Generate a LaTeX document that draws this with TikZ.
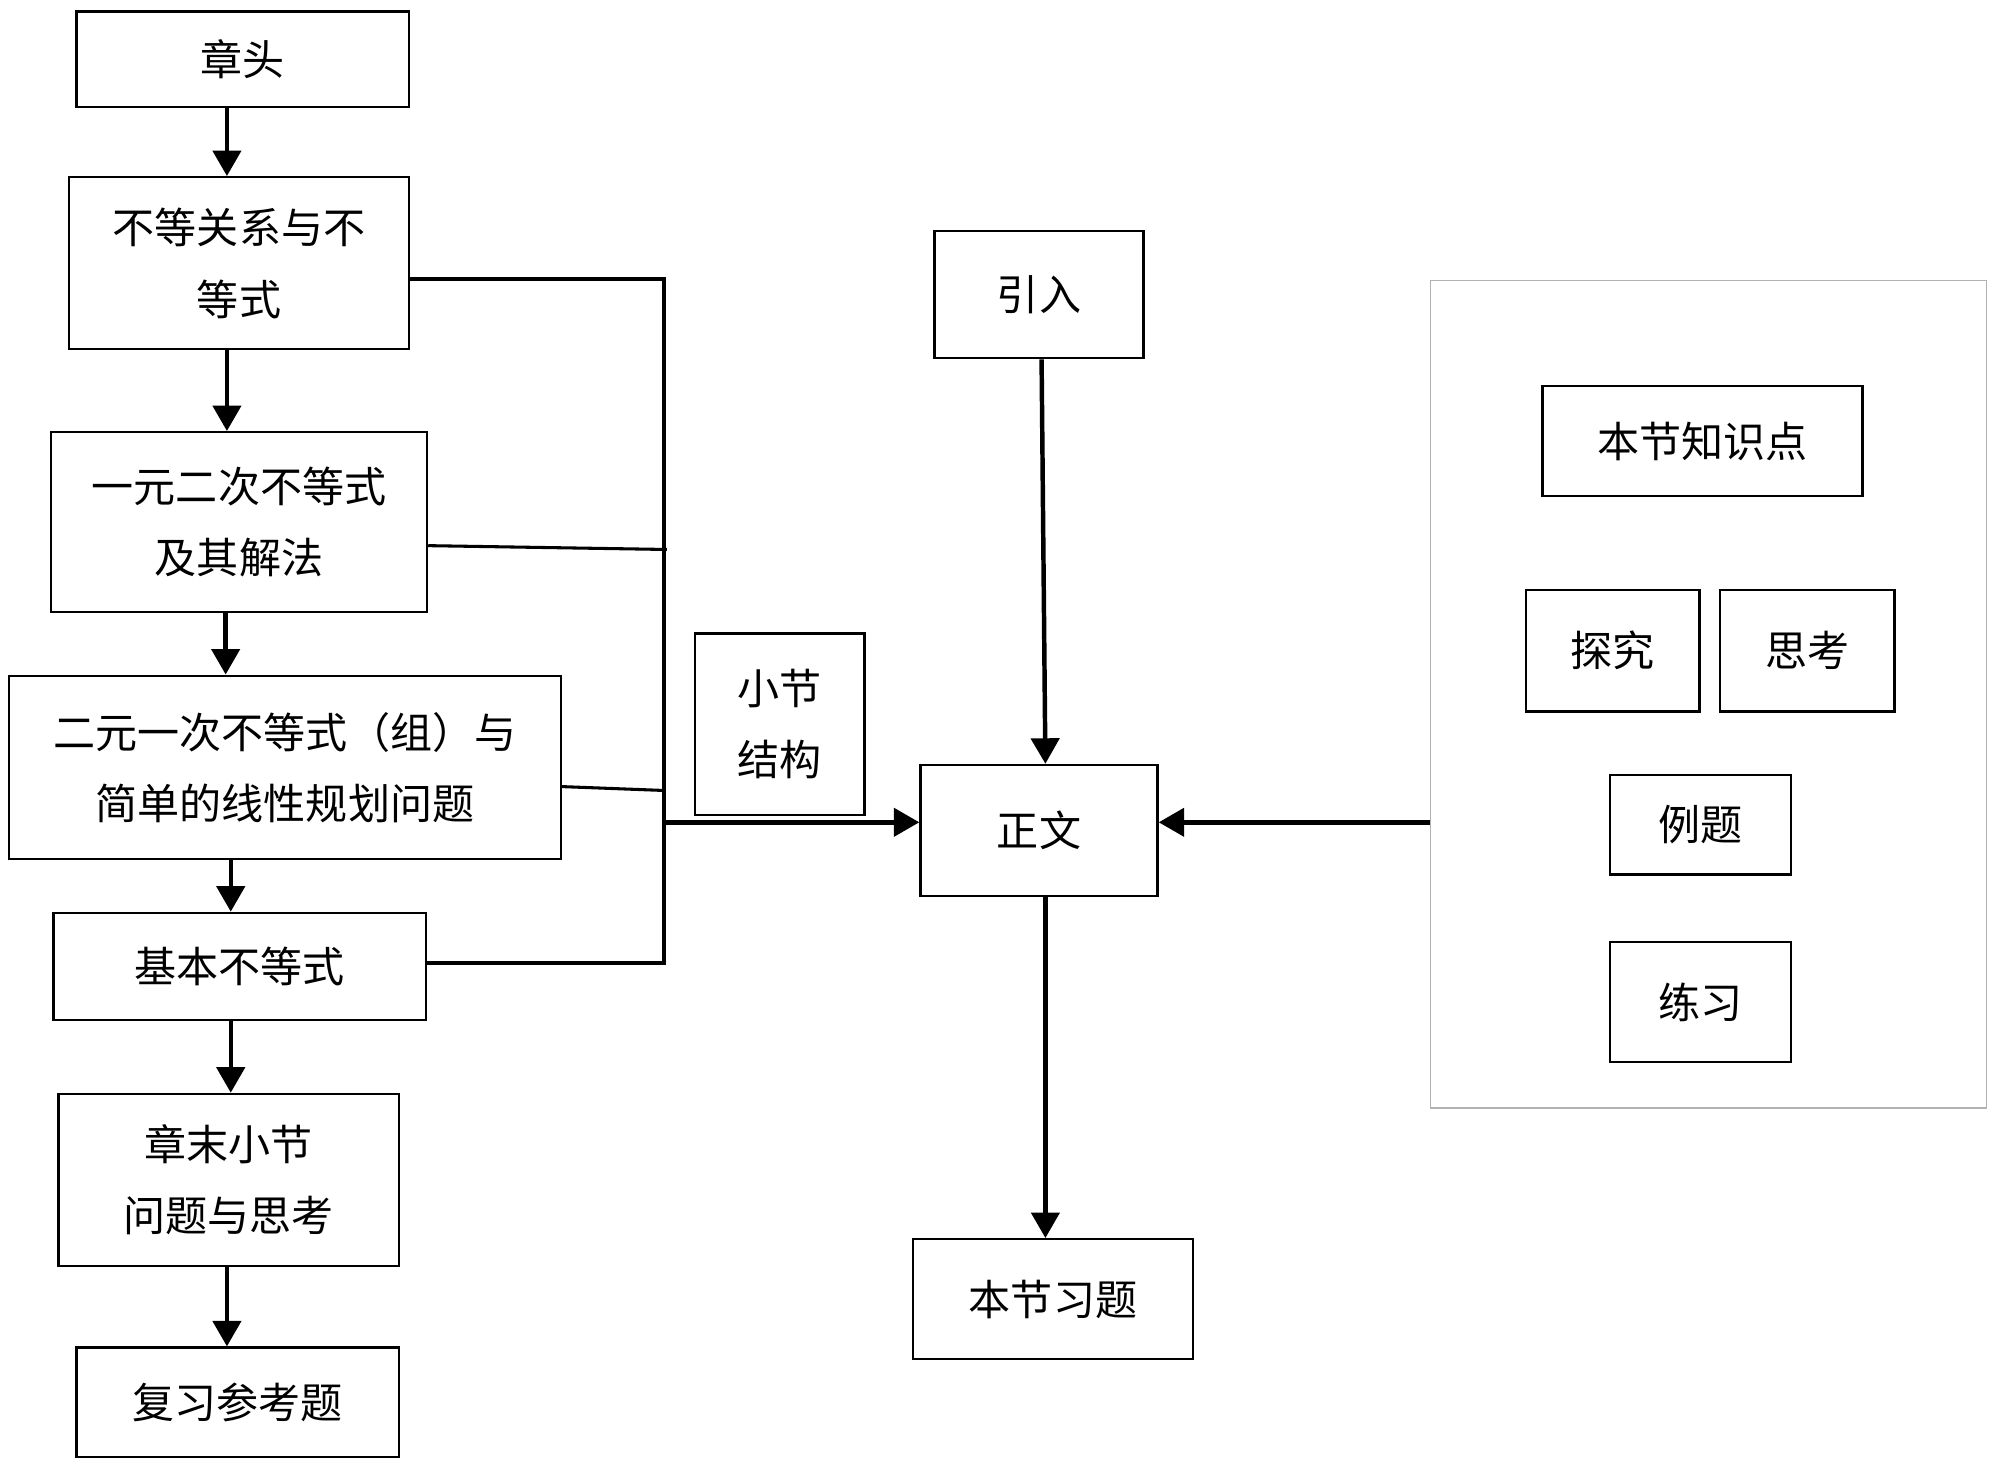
\documentclass[tikz,border=0pt]{standalone}
\usepackage{fontspec}
\setmainfont{Noto Sans CJK SC}
\usetikzlibrary{arrows.meta}
\begin{document}
\begin{tikzpicture}[x=1pt,y=-1pt,
  box/.style={draw,line width=1.8pt,inner sep=0pt,align=center,font=\fontsize{33}{56}\selectfont},
  arr/.style={line width=3.5pt,-{Triangle[length=20pt,width=22pt]}},
  bus/.style={line width=3.2pt},
  link/.style={line width=2.4pt}]
\useasboundingbox (0,0) rectangle (1568,1151);
% left column
\node[box,minimum width=261pt,minimum height=75pt] (zt) at (190.5,46.5) {章头};
\node[box,minimum width=267pt,minimum height=135pt] (bd) at (187.5,206.5) {不等关系与不\\等式};
\node[box,minimum width=295pt,minimum height=141pt] (yy) at (187.5,409.5) {一元二次不等式\\及其解法};
\node[box,minimum width=433pt,minimum height=144pt] (ey) at (223.5,602) {二元一次不等式（组）与\\简单的线性规划问题};
\node[box,minimum width=292pt,minimum height=84pt] (jb) at (188,758) {基本不等式};
\node[box,minimum width=267pt,minimum height=135pt] (zm) at (179.5,925.5) {章末小节\\问题与思考};
\node[box,minimum width=253pt,minimum height=86pt] (fx) at (186.5,1100) {复习参考题};
% middle
\node[box,minimum width=133pt,minimum height=142pt] (xj) at (611.5,568) {小节\\结构};
\node[box,minimum width=164pt,minimum height=100pt] (yr) at (815,231) {引入};
\node[box,minimum width=186pt,minimum height=103pt] (zw) at (815,651.5) {正文};
\node[box,minimum width=220pt,minimum height=94pt] (bx) at (826,1019) {本节习题};
% right group
\node[draw=black!30,line width=1pt,minimum width=436pt,minimum height=649pt,inner sep=0pt] (outer) at (1340,544.5) {};
\node[box,minimum width=251pt,minimum height=86pt] (zs) at (1335.5,346) {本节知识点};
\node[box,minimum width=136pt,minimum height=95pt] (tj) at (1265,510.5) {探究};
\node[box,minimum width=137pt,minimum height=95pt] (sk) at (1417.5,510.5) {思考};
\node[box,minimum width=142pt,minimum height=78pt] (lt) at (1334,647) {例题};
\node[box,minimum width=142pt,minimum height=94pt] (lx) at (1334,786) {练习};
% vertical chain arrows
\draw[arr] ([xshift=-12.5pt]zt.south) coordinate (a1) -- (a1 |- bd.north);
\draw[arr] ([xshift=-9.5pt]bd.south) coordinate (a2) -- (a2 |- yy.north);
\draw[arr] ([xshift=-10.5pt]yy.south) coordinate (a3) -- (a3 |- ey.north);
\draw[arr] ([xshift=-42.5pt]ey.south) coordinate (a4) -- (a4 |- jb.north);
\draw[arr] ([xshift=-7pt]jb.south) coordinate (a5) -- (a5 |- zm.north);
\draw[arr] ([xshift=-1.5pt]zm.south) coordinate (a6) -- (a6 |- fx.north);
% bus to 正文
\coordinate (p1) at (521,219);
\coordinate (pj) at (521,645);
\coordinate (p5) at (521,755);
\coordinate (p2) at (523,431);
\coordinate (p3) at (520,620);
\draw[bus] (bd.east |- p1) -- (p1) -- (pj) -- (p5) -- (jb.east |- p5);
\draw[link] ([yshift=-18.5pt]yy.east) -- (p2);
\draw[link] ([yshift=-15pt]ey.east) -- (p3);
\draw[arr] (pj) -- (zw.west |- pj);
% 引入 -> 正文 -> 本节习题
\draw[arr] ([xshift=2pt]yr.south) -- ([xshift=5pt]zw.north);
\draw[arr] ([xshift=5pt]zw.south) coordinate (q) -- (q |- bx.north);
% right group -> 正文
\coordinate (pr) at (outer.west |- pj);
\draw[arr] (pr) -- (zw.east |- pr);
\end{tikzpicture}
\end{document}
